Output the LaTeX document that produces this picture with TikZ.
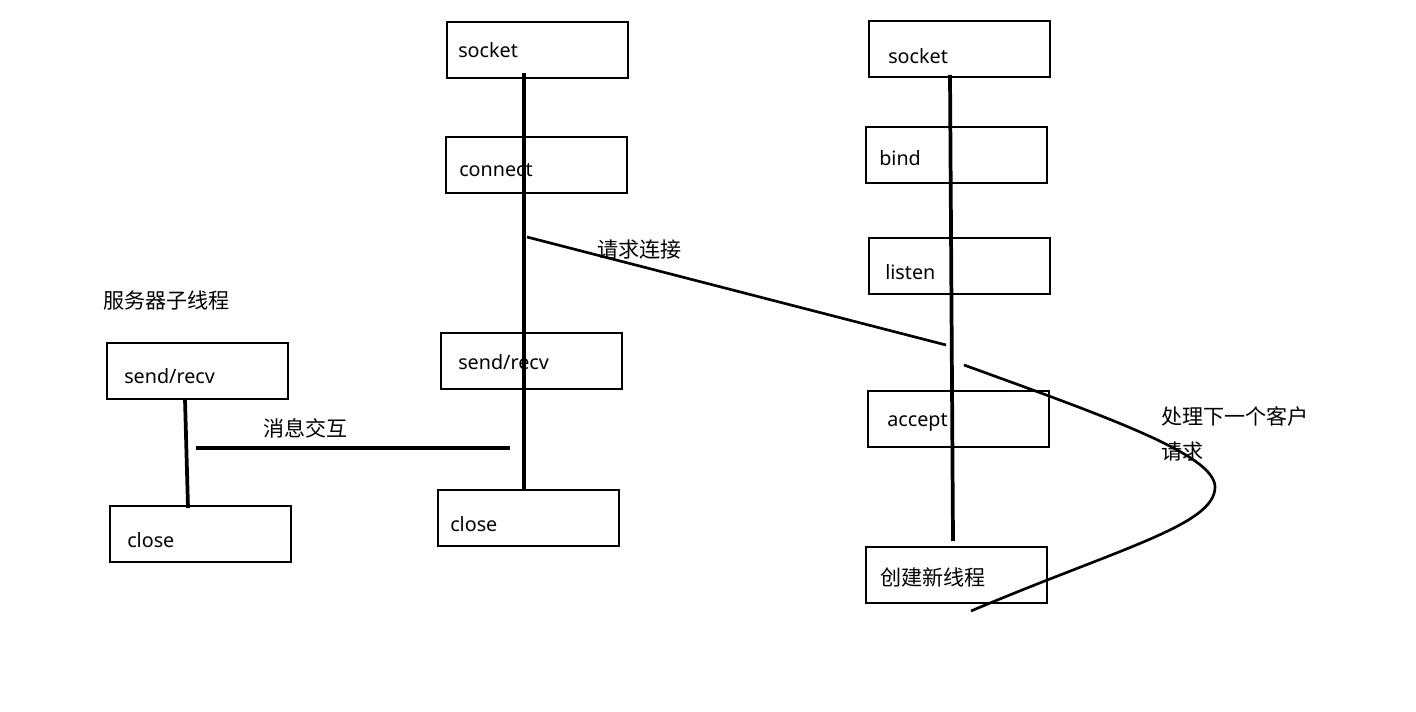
\documentclass[tikz,border=0pt]{standalone}
\usepackage{fontspec}
\setmainfont{Noto Sans}
\newfontfamily\cjk{Noto Sans CJK SC}
\begin{document}
\begin{tikzpicture}[x=0.75pt,y=-0.75pt,
  box/.style={draw, line width=1.5pt, minimum width=135.75pt, minimum height=42pt, inner sep=0pt},
  txt/.style={anchor=west, inner sep=0pt, font=\fontsize{14.8pt}{17pt}\selectfont},
  ctxt/.style={anchor=west, inner sep=0pt, font=\cjk\fontsize{15.8pt}{18pt}\selectfont},
  wire/.style={line width=2.8pt},
  thin/.style={line width=2pt}]
\useasboundingbox (0,0) rectangle (1416,712);
% client
\node[box] (csock) at (537.5,50) {};
\node[txt] (csockt) at (458,50) {socket};
\node[box] (conn) at (536.5,165) {};
\node[txt] (connt) at (459,170) {connect};
\node[box] (csr) at (531.5,361) {};
\node[txt] (csrt) at (458,362) {send/recv};
\node[box] (cclose) at (528.5,518) {};
\node[txt] (ccloset) at (450,524) {close};
% server
\node[box] (ssock) at (959.5,49) {};
\node[txt] (ssockt) at (888,56) {socket};
\node[box] (bind) at (956.5,155) {};
\node[txt] (bindt) at (879,158) {bind};
\node[box] (listen) at (959.5,266) {};
\node[txt] (listent) at (885,272) {listen};
\node[box] (accept) at (958.5,419) {};
\node[txt] (acceptt) at (887,422) {accept};
\node[box] (newth) at (956.5,575) {};
\node[ctxt] (newtht) at (880,577) {创建新线程};
% child thread
\node[box] (tsr) at (197.5,371) {};
\node[txt] (tsrt) at (124,376) {send/recv};
\node[box] (tclose) at (200.5,534) {};
\node[txt] (tcloset) at (127,540) {close};
% labels
\node[ctxt] (lreq) at (597,250) {请求连接};
\node[ctxt] (lchild) at (103,300) {服务器子线程};
\node[ctxt] (lmsg) at (263,428) {消息交互};
\node[ctxt] (lnext1) at (1161,416) {处理下一个客户};
\node[ctxt] (lnext2) at (1161,452) {请求};
% free ends
\coordinate (cv1) at (524,73);
\coordinate (cv2) at (524,490);
\coordinate (sv1) at (950,75);
\coordinate (sv2) at (953,541);
\coordinate (tv1) at (185,399);
\coordinate (tv2) at (188,508);
\coordinate (rq1) at (527,237);
\coordinate (rq2) at (946,345);
\coordinate (m1) at (196,448);
\coordinate (m2) at (510,448);
\coordinate (n1) at (964,365);
\coordinate (n2) at (1215,487);
\coordinate (n3) at (971,611);
% lines
\draw[wire] (cv1) -- (cv2);
\draw[wire] (sv1) -- (sv2);
\draw[wire] (tv1) -- (tv2);
\draw[thin] (rq1) -- (rq2);
\draw[wire] (m1) -- (m2);
\draw[thin] (n1) .. controls (1110,418) and (1215,455) .. (n2)
  .. controls (1215,525) and (1120,548) .. (n3);
\end{tikzpicture}
\end{document}
